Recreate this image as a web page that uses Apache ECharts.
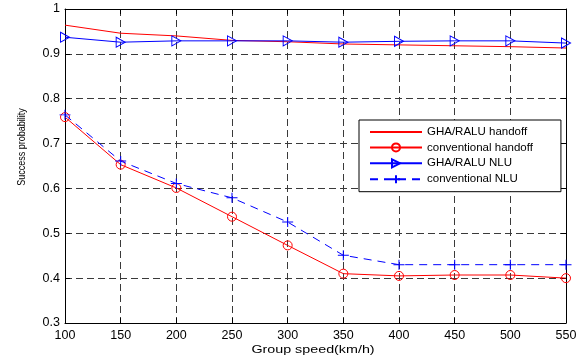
<!DOCTYPE html>
<html>
<head>
<meta charset="utf-8">
<script src="https://cdn.jsdelivr.net/npm/echarts@6/dist/echarts.min.js"></script>
<style>
html,body{margin:0;padding:0;background:#fff;}
#chart{width:587px;height:360px;}
</style>
</head>
<body>
<div id="chart"></div>
<script>
var speeds = [100, 150, 200, 250, 300, 350, 400, 450, 500, 550];
var ghaHandoff = [0.964, 0.946, 0.940, 0.930, 0.927, 0.922, 0.920, 0.918, 0.916, 0.913];
var convHandoff = [0.759, 0.653, 0.601, 0.537, 0.473, 0.410, 0.405, 0.407, 0.407, 0.400];
var ghaNLU = [0.937, 0.926, 0.929, 0.929, 0.929, 0.926, 0.928, 0.929, 0.929, 0.924];
var convNLU = [0.764, 0.661, 0.611, 0.579, 0.525, 0.451, 0.430, 0.430, 0.430, 0.430];
var seriesNames = ['GHA/RALU handoff', 'conventional handoff', 'GHA/RALU NLU', 'conventional NLU'];
var xTitle = 'Group speed(km/h)';
var yTitle = 'Success probability';

function pairs(vals) { return speeds.map(function (s, i) { return [s, vals[i]]; }); }

var font = 'Liberation Sans, Arial, Helvetica, sans-serif';
var chart = echarts.init(document.getElementById('chart'), null, {renderer: 'canvas'});
var gridDash = {color: '#3a3a3a', width: 1, type: [7, 4]};
var axisCommonX = {type: 'value', min: 100, max: 550, interval: 50};
var axisCommonY = {type: 'value', min: 0.3, max: 1, interval: 0.1};

chart.setOption({
  animation: false,
  backgroundColor: '#fff',
  grid: {left: 65, right: 21, top: 9, bottom: 37},
  xAxis: [
    Object.assign({}, axisCommonX, {
      position: 'bottom',
      axisLine: {show: true, onZero: false, lineStyle: {color: '#000', width: 1}},
      axisTick: {show: true, inside: true, length: 5, lineStyle: {color: '#000'}},
      axisLabel: {color: '#000', fontSize: 12.5, fontFamily: font, margin: 6},
      splitLine: {show: true, lineStyle: gridDash}
    }),
    Object.assign({}, axisCommonX, {
      position: 'top',
      axisLine: {show: true, onZero: false, lineStyle: {color: '#000', width: 1}},
      axisTick: {show: true, inside: true, length: 5, lineStyle: {color: '#000'}},
      axisLabel: {show: false},
      splitLine: {show: false}
    })
  ],
  yAxis: [
    Object.assign({}, axisCommonY, {
      position: 'left',
      axisLine: {show: true, onZero: false, lineStyle: {color: '#000', width: 1}},
      axisTick: {show: true, inside: true, length: 5, lineStyle: {color: '#000'}},
      axisLabel: {color: '#000', fontSize: 12.5, fontFamily: font, margin: 5,
        formatter: function (v) { return String(Math.round(v * 10) / 10); }},
      splitLine: {show: true, lineStyle: gridDash}
    }),
    Object.assign({}, axisCommonY, {
      position: 'right',
      axisLine: {show: true, onZero: false, lineStyle: {color: '#000', width: 1}},
      axisTick: {show: true, inside: true, length: 5, lineStyle: {color: '#000'}},
      axisLabel: {show: false},
      splitLine: {show: false}
    })
  ],
  legend: {
    orient: 'vertical',
    left: 359,
    top: 120,
    padding: [6, 28, 6, 10],
    itemWidth: 52,
    itemHeight: 10,
    itemGap: 2.9,
    backgroundColor: '#fff',
    borderColor: '#000',
    borderWidth: 1,
    borderRadius: 0,
    textStyle: {color: '#000', fontSize: 11.5, fontFamily: font},
    data: [
      {name: seriesNames[0], itemStyle: {opacity: 0}},
      seriesNames[1], seriesNames[2], seriesNames[3]
    ]
  },
  graphic: [
    {type: 'text', x: 313, y: 350, scaleX: 1.3, style: {text: xTitle, fill: '#000', font: '11px ' + font, align: 'center', verticalAlign: 'middle'}},
    {type: 'text', x: 22, y: 147, rotation: Math.PI / 2, scaleY: 1.3, style: {text: yTitle, fill: '#000', font: '9px ' + font, align: 'center', verticalAlign: 'middle'}}
  ],
  series: [
    {
      name: seriesNames[0], type: 'line', data: pairs(ghaHandoff), color: '#ff0000',
      symbol: 'none', lineStyle: {color: '#ff0000', width: 1}, z: 3
    },
    {
      name: seriesNames[1], type: 'line', data: pairs(convHandoff), color: '#ff0000',
      symbol: 'circle', symbolSize: 9,
      itemStyle: {color: 'none', borderColor: '#ff0000', borderWidth: 1},
      lineStyle: {color: '#ff0000', width: 1}, z: 3
    },
    {
      name: seriesNames[2], type: 'line', data: pairs(ghaNLU), color: '#0000ff',
      symbol: 'path://M0,0L10,5L0,10Z', symbolSize: [9, 10],
      itemStyle: {color: 'none', borderColor: '#0000ff', borderWidth: 1},
      lineStyle: {color: '#0000ff', width: 1}, z: 4
    },
    {
      name: seriesNames[3], type: 'line', data: pairs(convNLU), color: '#0000ff',
      symbol: 'path://M0,5L10,5M5,0L5,10', symbolSize: [11, 10],
      itemStyle: {color: 'none', borderColor: '#0000ff', borderWidth: 1},
      lineStyle: {color: '#0000ff', width: 1, type: [8, 6]}, z: 4
    }
  ]
});
</script>
</body>
</html>
